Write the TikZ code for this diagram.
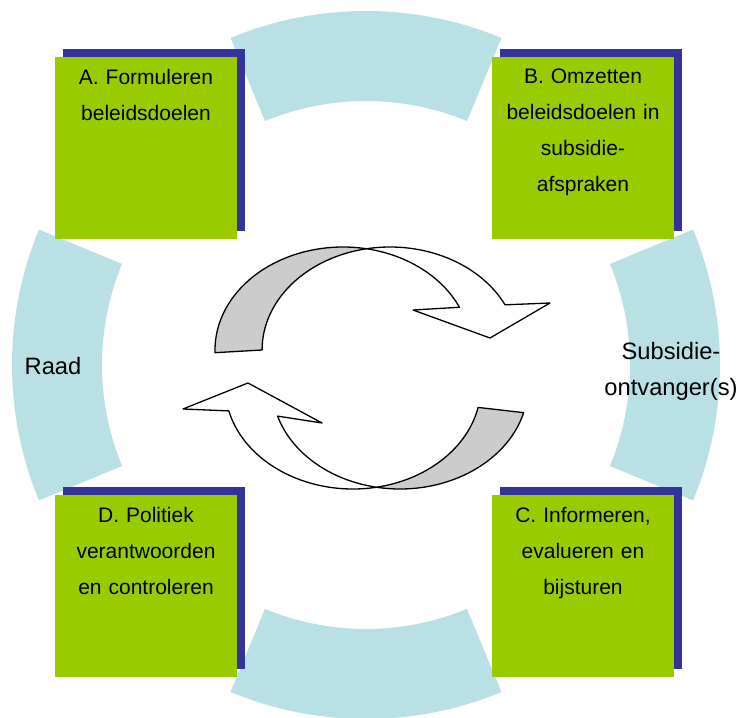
\documentclass[tikz,border=0pt]{standalone}
\usepackage{fontspec}
\setmainfont{Liberation Sans}
\usetikzlibrary{calc}
\usetikzlibrary{positioning}
\usetikzlibrary{shadows}

\definecolor{ringBlue}{RGB}{185,224,228}
\definecolor{boxGreen}{RGB}{153,204,0}
\definecolor{shadowBlue}{RGB}{51,51,153}
\definecolor{arrowGray}{RGB}{204,204,204}

\tikzset{
	taskBox/.style={fill=boxGreen, minimum size=182pt, inner sep=0,
		drop shadow={shadow xshift=8pt, shadow yshift=8pt, fill=shadowBlue, opacity=1}},
	taskText/.style={font=\fontsize{21}{36}\selectfont, text width=176pt, align=center, inner sep=0},
	ringLabel/.style={font=\fontsize{23.7}{36}\selectfont, text width=150pt, align=center, inner sep=0},
	arrowBack/.style={fill=arrowGray, draw=black, line width=1.3pt, line join=round},
	arrowFront/.style={fill=white, draw=black, line width=1.3pt, line join=round}
}

\newcommand{\drawRingPart}[1]{
	\fill[ringBlue] ($(RING_C)+(#1-22.5:354pt)$) arc[start angle=#1-22.5, end angle=#1+22.5, radius=354pt]
		-- ($(RING_C)+(#1+22.5:264pt)$) arc[start angle=#1+22.5, end angle=#1-22.5, radius=264pt] -- cycle;
}
\newcommand{\drawTaskBox}[3]{
	\node[taskBox] (#1) at (#2) {};
	\node[taskText, below=12pt of #1.north] (#1_text) {#3};
}

\begin{document}
\begin{tikzpicture}[x=1pt, y=1pt]
		\useasboundingbox (0,0) rectangle (740,718);
		\coordinate (RING_C) at (366,353);
		\coordinate (BOX_A) at (146,570);
		\coordinate (BOX_B) at (583,570);
		\coordinate (BOX_C) at (583,132);
		\coordinate (BOX_D) at (146,132);
		\coordinate (TOP_L) at (343,368);
		\coordinate (TOP_R) at (390,368);
		\coordinate (BOT_L) at (353,332);
		\coordinate (BOT_R) at (400,332);

		\foreach \a in {0,90,180,270} {
			\drawRingPart{\a}
		}

		\node[ringLabel] (RAAD) at (53,352) {Raad};
		\node[ringLabel] (ONTVANGER) at (671,347) {Subsidie-\\ontvanger(s)};

		\drawTaskBox{A}{BOX_A}{A. Formuleren\\beleidsdoelen}
		\drawTaskBox{B}{BOX_B}{B. Omzetten\\beleidsdoelen in\\subsidie-\\afspraken}
		\drawTaskBox{C}{BOX_C}{C. Informeren,\\evalueren en\\bijsturen}
		\drawTaskBox{D}{BOX_D}{D. Politiek\\verantwoorden\\en controleren}

		\filldraw[arrowBack] ($(TOP_L)+(181.5:128pt and 103pt)$)
			arc[start angle=181.5, end angle=79.4, x radius=128pt, y radius=103pt]
			arc[start angle=100.6, end angle=180, x radius=128pt, y radius=103pt] -- cycle;
		\filldraw[arrowFront] ($(TOP_R)+(100.6:128pt and 103pt)$)
			arc[start angle=100.6, end angle=26, x radius=128pt, y radius=103pt]
			-- (550,415) -- (490,380) -- (413,408)
			-- ($(TOP_L)+(24.5:128pt and 103pt)$)
			arc[start angle=24.5, end angle=79.4, x radius=128pt, y radius=103pt] -- cycle;

		\filldraw[arrowBack] ($(BOT_R)+(-15:128pt and 103pt)$)
			arc[start angle=-15, end angle=-100.6, x radius=128pt, y radius=103pt]
			arc[start angle=-79.4, end angle=-12, x radius=128pt, y radius=103pt] -- cycle;
		\filldraw[arrowFront] ($(BOT_L)+(-79.4:128pt and 103pt)$)
			arc[start angle=-79.4, end angle=-166, x radius=128pt, y radius=103pt]
			-- (183,309) -- (248,335) -- (322,295)
			-- ($(BOT_R)+(-163:128pt and 103pt)$)
			arc[start angle=-163, end angle=-100.6, x radius=128pt, y radius=103pt] -- cycle;
	\end{tikzpicture}
\end{document}
